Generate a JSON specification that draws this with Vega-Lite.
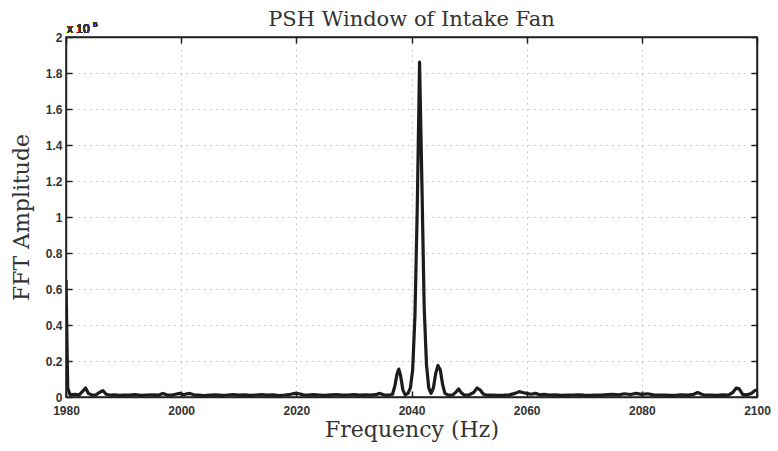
{
  "$schema": "https://vega.github.io/schema/vega-lite/v6.json",
  "autosize": "none",
  "width": 691,
  "height": 360,
  "padding": {"left": 66, "top": 37, "right": 21, "bottom": 54},
  "background": "white",
  "title": {
    "text": "PSH Window of Intake Fan",
    "font": "DejaVu Serif",
    "fontSize": 21,
    "fontWeight": "normal",
    "color": "#333333",
    "anchor": "middle",
    "offset": -9
  },
  "config": {
    "view": {"stroke": "#222222", "strokeWidth": 1.5},
    "axis": {
      "domainColor": "#222222",
      "domainWidth": 1.5,
      "tickColor": "#222222",
      "tickWidth": 1.5,
      "tickSize": -6,
      "labelFlush": false,
      "labelFont": "Liberation Sans",
      "labelFontSize": 12,
      "labelFontWeight": "bold",
      "labelColor": "#333333",
      "titleFont": "DejaVu Serif",
      "titleFontSize": 22,
      "titleFontWeight": "normal",
      "titleColor": "#333333",
      "gridColor": "#8a8a8a",
      "gridDash": [1, 5],
      "gridWidth": 1,
      "gridOpacity": 0.8
    }
  },
  "data": {
    "values": [
      {"freq": 1980.0, "amp": 65000},
      {"freq": 1980.3, "amp": 5000},
      {"freq": 1980.7, "amp": 1200},
      {"freq": 1981.5, "amp": 1500},
      {"freq": 1982.3, "amp": 1200},
      {"freq": 1983.0, "amp": 3500},
      {"freq": 1983.4, "amp": 5000},
      {"freq": 1983.9, "amp": 2000},
      {"freq": 1984.5, "amp": 1000},
      {"freq": 1985.2, "amp": 1200},
      {"freq": 1985.8, "amp": 2500},
      {"freq": 1986.4, "amp": 3500},
      {"freq": 1987.0, "amp": 1500},
      {"freq": 1987.8, "amp": 1000},
      {"freq": 1988.5, "amp": 1200},
      {"freq": 1989.3, "amp": 900},
      {"freq": 1990.0, "amp": 1100},
      {"freq": 1991.0, "amp": 1000},
      {"freq": 1992.0, "amp": 1300},
      {"freq": 1993.0, "amp": 900},
      {"freq": 1994.0, "amp": 1100},
      {"freq": 1995.0, "amp": 1200},
      {"freq": 1996.0, "amp": 1000},
      {"freq": 1996.8, "amp": 2000},
      {"freq": 1997.5, "amp": 1200},
      {"freq": 1998.3, "amp": 1000},
      {"freq": 1999.0, "amp": 1500},
      {"freq": 1999.7, "amp": 2000},
      {"freq": 2000.5, "amp": 1200},
      {"freq": 2001.0, "amp": 1800},
      {"freq": 2001.5, "amp": 2000},
      {"freq": 2002.2, "amp": 1200},
      {"freq": 2003.0, "amp": 1000},
      {"freq": 2004.0, "amp": 800},
      {"freq": 2005.0, "amp": 1000},
      {"freq": 2006.0, "amp": 1200},
      {"freq": 2007.0, "amp": 900},
      {"freq": 2008.0, "amp": 1100},
      {"freq": 2009.0, "amp": 1400},
      {"freq": 2010.0, "amp": 1000},
      {"freq": 2011.0, "amp": 1200},
      {"freq": 2012.0, "amp": 900},
      {"freq": 2013.0, "amp": 1100},
      {"freq": 2014.0, "amp": 1300},
      {"freq": 2015.0, "amp": 1000},
      {"freq": 2016.0, "amp": 1200},
      {"freq": 2017.0, "amp": 800},
      {"freq": 2018.0, "amp": 1100},
      {"freq": 2019.0, "amp": 1500},
      {"freq": 2019.8, "amp": 2000},
      {"freq": 2020.5, "amp": 1800},
      {"freq": 2021.2, "amp": 1200},
      {"freq": 2022.0, "amp": 1000},
      {"freq": 2023.0, "amp": 1300},
      {"freq": 2024.0, "amp": 1100},
      {"freq": 2025.0, "amp": 900},
      {"freq": 2026.0, "amp": 1200},
      {"freq": 2027.0, "amp": 1400},
      {"freq": 2028.0, "amp": 1000},
      {"freq": 2029.0, "amp": 1100},
      {"freq": 2030.0, "amp": 1300},
      {"freq": 2031.0, "amp": 1000},
      {"freq": 2032.0, "amp": 1200},
      {"freq": 2033.0, "amp": 1100},
      {"freq": 2034.0, "amp": 1500},
      {"freq": 2034.5, "amp": 2000},
      {"freq": 2035.2, "amp": 1200},
      {"freq": 2036.0, "amp": 1000},
      {"freq": 2036.7, "amp": 1500},
      {"freq": 2037.1, "amp": 6000},
      {"freq": 2037.5, "amp": 13000},
      {"freq": 2037.8, "amp": 15500},
      {"freq": 2038.1, "amp": 12000},
      {"freq": 2038.5, "amp": 4000},
      {"freq": 2038.9, "amp": 1200},
      {"freq": 2039.4, "amp": 2000},
      {"freq": 2039.8, "amp": 5000},
      {"freq": 2040.2, "amp": 15000},
      {"freq": 2040.6, "amp": 45000},
      {"freq": 2041.0, "amp": 105000},
      {"freq": 2041.4, "amp": 186000},
      {"freq": 2041.8, "amp": 120000},
      {"freq": 2042.2, "amp": 50000},
      {"freq": 2042.6, "amp": 18000},
      {"freq": 2043.0, "amp": 5000},
      {"freq": 2043.4, "amp": 2000},
      {"freq": 2043.8, "amp": 5000},
      {"freq": 2044.2, "amp": 13000},
      {"freq": 2044.6, "amp": 17500},
      {"freq": 2045.0, "amp": 15000},
      {"freq": 2045.4, "amp": 7000},
      {"freq": 2045.8, "amp": 2000},
      {"freq": 2046.4, "amp": 1000},
      {"freq": 2047.2, "amp": 1200},
      {"freq": 2047.8, "amp": 3000},
      {"freq": 2048.2, "amp": 4500},
      {"freq": 2048.6, "amp": 2500},
      {"freq": 2049.2, "amp": 1000},
      {"freq": 2050.0, "amp": 1200},
      {"freq": 2050.8, "amp": 2500},
      {"freq": 2051.4, "amp": 5000},
      {"freq": 2051.9, "amp": 4000},
      {"freq": 2052.5, "amp": 1500},
      {"freq": 2053.2, "amp": 1000},
      {"freq": 2054.0, "amp": 1100},
      {"freq": 2055.0, "amp": 900},
      {"freq": 2056.0, "amp": 1000},
      {"freq": 2057.0, "amp": 1200},
      {"freq": 2058.0, "amp": 2000},
      {"freq": 2058.7, "amp": 3000},
      {"freq": 2059.3, "amp": 2500},
      {"freq": 2060.0, "amp": 2000},
      {"freq": 2060.8, "amp": 1500},
      {"freq": 2061.5, "amp": 2000},
      {"freq": 2062.3, "amp": 1200},
      {"freq": 2063.0, "amp": 1500},
      {"freq": 2064.0, "amp": 1000},
      {"freq": 2065.0, "amp": 1200},
      {"freq": 2066.0, "amp": 900},
      {"freq": 2067.0, "amp": 1000},
      {"freq": 2068.0, "amp": 1100},
      {"freq": 2069.0, "amp": 1200},
      {"freq": 2070.0, "amp": 1000},
      {"freq": 2071.0, "amp": 900},
      {"freq": 2072.0, "amp": 1100},
      {"freq": 2073.0, "amp": 1000},
      {"freq": 2074.0, "amp": 1300},
      {"freq": 2075.0, "amp": 1500},
      {"freq": 2076.0, "amp": 1200},
      {"freq": 2077.0, "amp": 1800},
      {"freq": 2078.0, "amp": 1400},
      {"freq": 2079.0, "amp": 2000},
      {"freq": 2080.0, "amp": 1500},
      {"freq": 2081.0, "amp": 1800},
      {"freq": 2082.0, "amp": 1200},
      {"freq": 2083.0, "amp": 1000},
      {"freq": 2084.0, "amp": 1100},
      {"freq": 2085.0, "amp": 900},
      {"freq": 2086.0, "amp": 1000},
      {"freq": 2087.0, "amp": 1200},
      {"freq": 2088.0, "amp": 1000},
      {"freq": 2089.0, "amp": 1500},
      {"freq": 2089.7, "amp": 2500},
      {"freq": 2090.4, "amp": 1500},
      {"freq": 2091.0, "amp": 1000},
      {"freq": 2092.0, "amp": 1100},
      {"freq": 2093.0, "amp": 900},
      {"freq": 2094.0, "amp": 1200},
      {"freq": 2095.0, "amp": 1000},
      {"freq": 2095.8, "amp": 2500},
      {"freq": 2096.4, "amp": 5000},
      {"freq": 2096.9, "amp": 4500},
      {"freq": 2097.5, "amp": 1500},
      {"freq": 2098.3, "amp": 1200},
      {"freq": 2099.0, "amp": 2000},
      {"freq": 2099.6, "amp": 3500},
      {"freq": 2100.0, "amp": 4000}
    ]
  },
  "layer": [
    {
      "mark": {"type": "line", "color": "#1c1c1c", "strokeWidth": 3.2, "strokeJoin": "round", "clip": true},
      "encoding": {
        "x": {
          "field": "freq",
          "type": "quantitative",
          "scale": {"domain": [1980, 2100], "nice": false, "zero": false},
          "axis": {
            "title": "Frequency (Hz)",
            "values": [1980, 2000, 2020, 2040, 2060, 2080, 2100],
            "format": "d",
            "labelPadding": 14,
            "titlePadding": 3,
            "grid": true
          }
        },
        "y": {
          "field": "amp",
          "type": "quantitative",
          "scale": {"domain": [0, 200000], "nice": false},
          "axis": {
            "title": "FFT Amplitude",
            "values": [0, 20000, 40000, 60000, 80000, 100000, 120000, 140000, 160000, 180000, 200000],
            "labelExpr": "format(datum.value / 100000, '.1~f')",
            "labelPadding": 10,
            "titlePadding": 12,
            "grid": true
          }
        }
      }
    },
    {
      "mark": {"type": "text", "text": "x 10", "align": "left", "baseline": "alphabetic", "dy": -4, "dx": 1, "font": "Liberation Sans", "fontSize": 12, "color": "#333333"},
      "encoding": {
        "x": {
          "datum": 1980,
          "type": "quantitative",
          "axis": {"orient": "top", "values": [1980, 2000, 2020, 2040, 2060, 2080, 2100], "labels": false, "title": null, "grid": false}
        },
        "y": {
          "datum": 200000,
          "type": "quantitative",
          "axis": {"orient": "right", "values": [0, 20000, 40000, 60000, 80000, 100000, 120000, 140000, 160000, 180000, 200000], "labels": false, "title": null, "grid": false}
        }
      }
    },
    {
      "mark": {"type": "text", "text": "5", "align": "left", "baseline": "alphabetic", "dy": -10, "dx": 27, "font": "Liberation Sans", "fontSize": 8, "color": "#333333"},
      "encoding": {
        "x": {"datum": 1980, "type": "quantitative", "axis": null},
        "y": {"datum": 200000, "type": "quantitative", "axis": null}
      }
    }
  ],
  "resolve": {"axis": {"x": "independent", "y": "independent"}}
}
